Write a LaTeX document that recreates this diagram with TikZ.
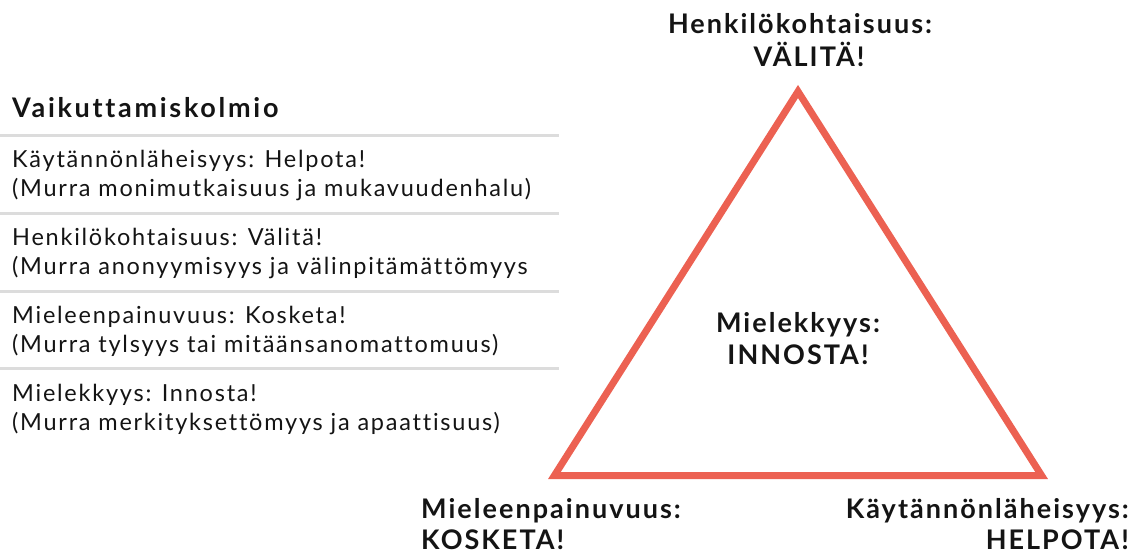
\documentclass[tikz,border=0pt]{standalone}
\usepackage{fontspec}
\setmainfont{Lato}
\newfontfamily\listfont[LetterSpace=7.5,Ligatures=NoCommon]{Lato}
\newfontfamily\headfont[LetterSpace=10,Ligatures=NoCommon]{Lato}
\newfontfamily\labelfont[LetterSpace=7.5,Ligatures=NoCommon]{Lato}
\definecolor{coral}{RGB}{236,97,82}
\definecolor{rule}{RGB}{220,220,220}
\definecolor{ink}{RGB}{20,20,20}
\tikzset{
  body/.style={anchor=base west, inner sep=0pt, text=ink, font=\listfont\fontsize{23.5}{28}\selectfont},
  heading/.style={anchor=base west, inner sep=0pt, text=ink, font=\headfont\bfseries\fontsize{27}{32}\selectfont},
  corner/.style={inner sep=0pt, text=ink, font=\labelfont\bfseries\fontsize{27}{32}\selectfont},
  divider/.style={draw=rule, line width=3pt},
  tri/.style={draw=coral, line width=7pt, line join=miter}
}
\begin{document}
\begin{tikzpicture}[x=1pt, y=-1pt]
  \useasboundingbox (0,0) rectangle (1131,554);

  % list on the left
  \node[heading] (title) at (12,117) {Vaikuttamiskolmio};
  \foreach \k/\y in {0/135,1/213,2/291,3/368}
    \coordinate (r\k a) at (0,\y);
  \foreach \k/\y in {0/135,1/213,2/291,3/368}
    \coordinate (r\k b) at (559,\y);
  \foreach \k in {0,1,2,3}
    \draw[divider] (r\k a) -- (r\k b);

  \node[body] (i1a) at (12,167) {Käytännönläheisyys: Helpota!};
  \node[body] (i1b) at (12,196) {(Murra monimutkaisuus ja mukavuudenhalu)};
  \node[body] (i2a) at (12,245) {Henkilökohtaisuus: Välitä!};
  \node[body] (i2b) at (12,274) {(Murra anonyymisyys ja välinpitämättömyys};
  \node[body] (i3a) at (12,323) {Mieleenpainuvuus: Kosketa!};
  \node[body] (i3b) at (12,352) {(Murra tylsyys tai mitäänsanomattomuus)};
  \node[body] (i4a) at (12,401) {Mielekkyys: Innosta!};
  \node[body] (i4b) at (12,430) {(Murra merkityksettömyys ja apaattisuus)};

  % triangle
  \coordinate (apex) at (798,91.5);
  \coordinate (bl) at (554.4,475.5);
  \coordinate (br) at (1041.6,475.5);
  \draw[tri] (apex) -- (bl) -- (br) -- cycle;

  % corner labels
  \node[corner, anchor=base] (topa) at (800,33) {Henkilökohtaisuus:};
  \node[corner, anchor=base] (topb) at (809,66) {VÄLITÄ!};
  \node[corner, anchor=base] (mida) at (798,332) {Mielekkyys:};
  \node[corner, anchor=base] (midb) at (798,364) {INNOSTA!};
  \node[corner, anchor=base west] (lefta) at (421,518) {Mieleenpainuvuus:};
  \node[corner, anchor=base west] (leftb) at (421,549) {KOSKETA!};
  \node[corner, anchor=base east] (righta) at (1129,518) {Käytännönläheisyys:};
  \node[corner, anchor=base east] (rightb) at (1129,549) {HELPOTA!};
\end{tikzpicture}
\end{document}
